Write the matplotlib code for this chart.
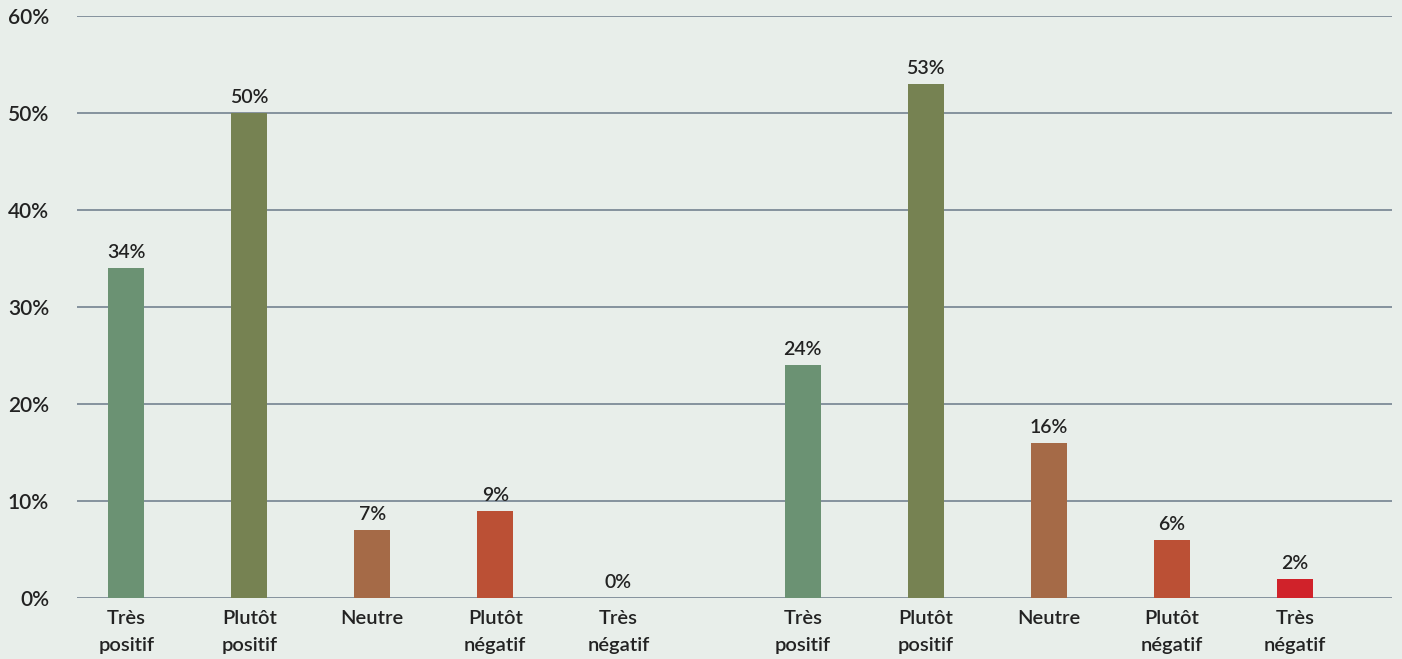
import matplotlib.pyplot as plt

plt.rcParams['font.family'] = ['Lato', 'DejaVu Sans']

# Two survey groups, five answers each
categories = ['Très\npositif', 'Plutôt\npositif', 'Neutre', 'Plutôt\nnégatif', 'Très\nnégatif']
group1 = [34, 50, 7, 9, 0]
group2 = [24, 53, 16, 6, 2]
colors = ['#6b9273', '#768252', '#a56a47', '#bb5035', '#d0222a']

pos1 = [0, 1, 2, 3, 4]
pos2 = [5.5, 6.5, 7.5, 8.5, 9.5]

bg = '#e8eeea'
fig = plt.figure(figsize=(14.02, 6.59), dpi=100, facecolor=bg)
ax = fig.add_axes([0.0549, 0.0926, 0.938, 0.8831], facecolor=bg)

for pos, vals in [(pos1, group1), (pos2, group2)]:
    bars = ax.bar(pos, vals, width=0.29, color=colors, zorder=3)
    for b, v in zip(bars, vals):
        ax.annotate(f'{v}%', (b.get_x() + b.get_width() / 2, v),
                    xytext=(0, 5), textcoords='offset points',
                    ha='center', va='bottom', fontsize=14,
                    fontweight='semibold', color='#222222')

ax.set_xlim(-0.4, 10.29)
ax.set_ylim(0, 60)
ax.set_yticks(range(0, 61, 10))
ax.set_yticklabels([f'{t}%' for t in range(0, 61, 10)])
ax.grid(axis='y', color='#7d8b98', linewidth=1.3, zorder=1)
ax.set_xticks(pos1 + pos2)
ax.set_xticklabels(categories * 2, linespacing=1.65)

for s in ax.spines.values():
    s.set_visible(False)
ax.tick_params(axis='y', length=0, pad=20, labelsize=15, labelcolor='#222222')
ax.tick_params(axis='x', length=0, pad=9, labelsize=14.5, labelcolor='#222222')
for lbl in ax.get_xticklabels() + ax.get_yticklabels():
    lbl.set_fontweight('semibold')

fig.savefig('out.png', dpi=100, facecolor=bg)
